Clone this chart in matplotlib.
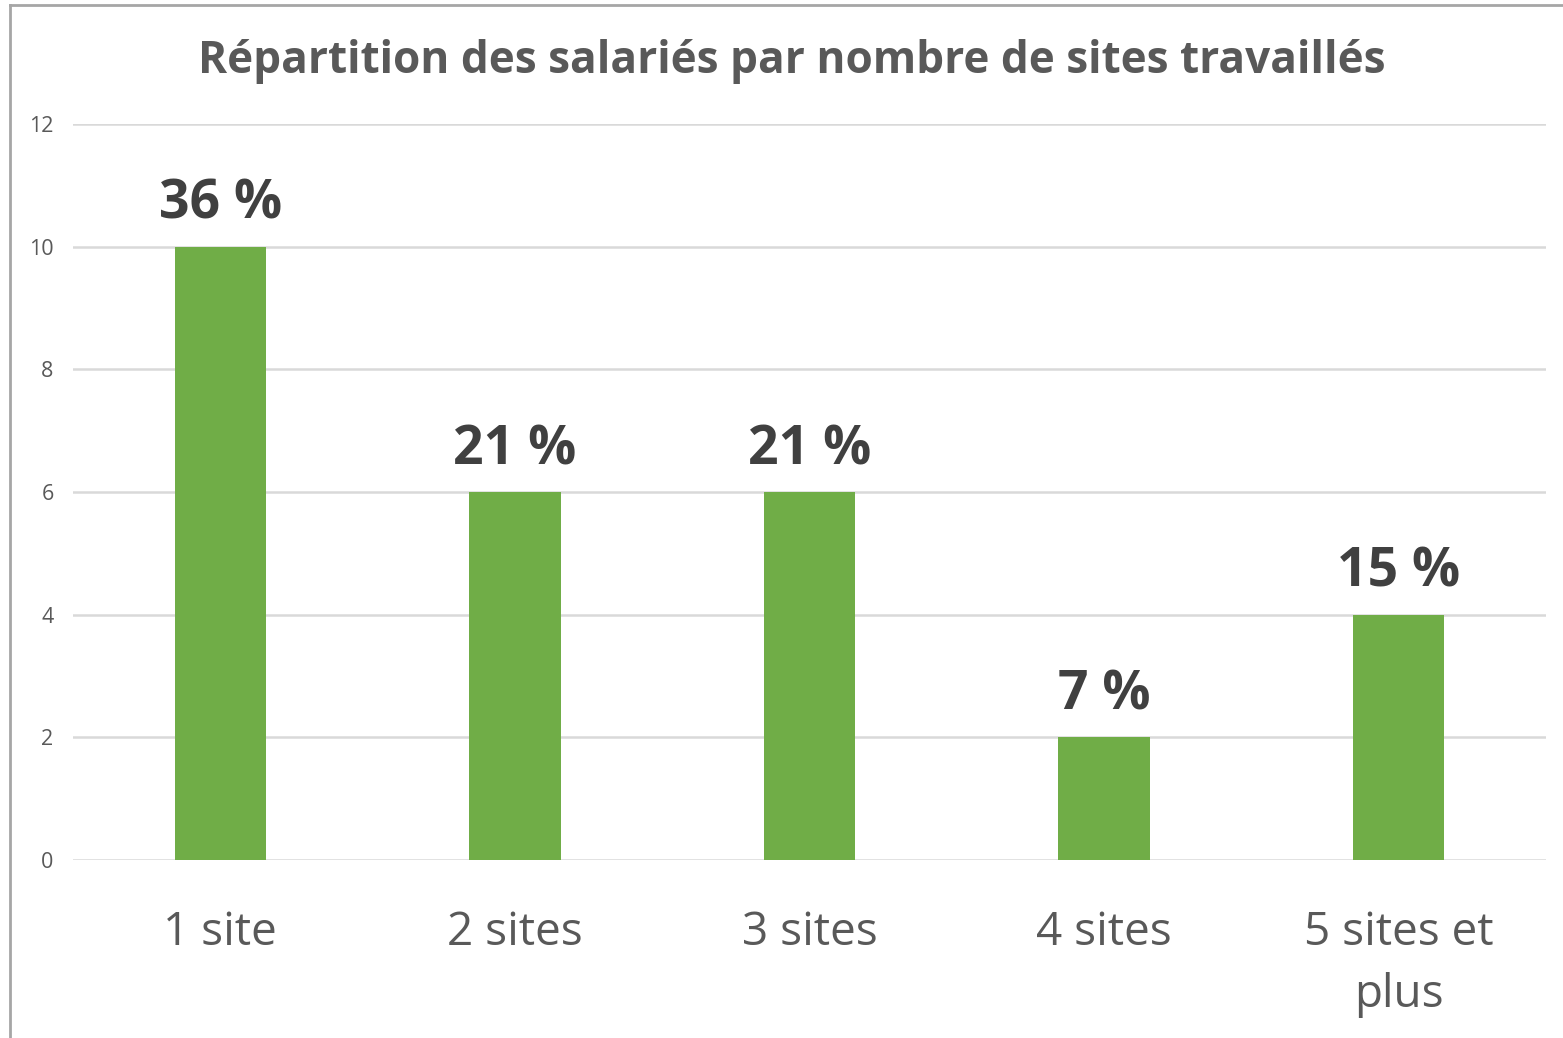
import matplotlib
matplotlib.use("Agg")
import matplotlib.pyplot as plt
from matplotlib.lines import Line2D

categories = ["1 site", "2 sites", "3 sites", "4 sites", "5 sites et\nplus"]
values = [10, 6, 6, 2, 4]
pct_labels = ["36 %", "21 %", "21 %", "7 %", "15 %"]
yticks = [0, 2, 4, 6, 8, 10, 12]
title = "Répartition des salariés par nombre de sites travaillés"

plt.rcParams['font.family'] = ['Open Sans', 'DejaVu Sans']

fig = plt.figure(figsize=(15.63, 10.38), dpi=100)
ax = fig.add_axes([73/1563, 1-860/1038, (1546-73)/1563, (860-124)/1038])

x = list(range(len(categories)))
bars = ax.bar(x, values, width=0.31, color="#70AD47", zorder=3)
ax.set_xlim(-0.5, len(categories)-0.5)
ax.set_ylim(0, 12)
ax.set_yticks(yticks)
ax.set_yticklabels([str(t) for t in yticks])
ax.set_xticks(x)
ax.set_xticklabels(categories, fontsize=33, color="#595959", linespacing=1.45)
ax.tick_params(axis='x', length=0, pad=36)
ax.tick_params(axis='y', length=0, pad=14, labelsize=15.5, labelcolor="#595959")
ax.grid(axis='y', color="#d9d9d9", linewidth=1.8, zorder=0)
for s in ["top", "right", "left", "bottom"]:
    ax.spines[s].set_visible(False)

for xi, v, lab in zip(x, values, pct_labels):
    ax.annotate(lab, (xi, v), xytext=(0, 20), textcoords="offset points",
                ha="center", va="baseline", fontsize=38.5, fontweight="bold",
                color="#404040")

fig.text(792/1563, 1-62/1038, title, ha="center", va="center",
         fontsize=31.8, fontweight="bold", color="#595959")

# chart frame (top and left edges visible)
fig.add_artist(Line2D([10/1563, 10/1563], [0, 1-5/1038], transform=fig.transFigure,
                      color="#a6a6a6", linewidth=2))
fig.add_artist(Line2D([10/1563, 1], [1-5/1038, 1-5/1038], transform=fig.transFigure,
                      color="#a6a6a6", linewidth=2))

fig.savefig("out.png", dpi=100, facecolor="white")
